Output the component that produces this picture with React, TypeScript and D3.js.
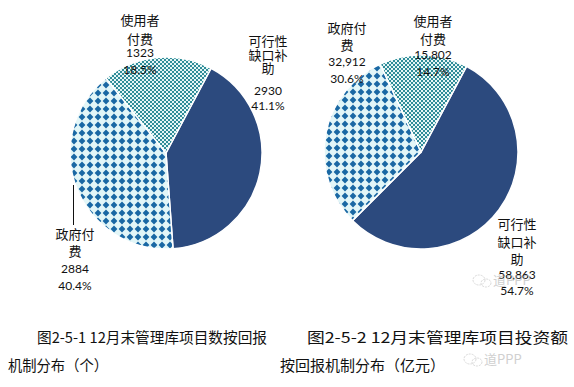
import React from 'react'
import * as d3 from 'd3'

// slices, clockwise from the first one
const sliceKeys = ['gap', 'gov', 'user']
const nameLines = [['可行性', '缺口补', '助'], ['政府付', '费'], ['使用者', '付费']]
const countValues = [2930, 2884, 1323]
const countPercents = ['41.1%', '40.4%', '18.5%']
const investValues = [58863, 32912, 15802]
const investPercents = ['54.7%', '30.6%', '14.7%']
const captionLeft = ['图2-5-1 12月末管理库项目数按回报', '机制分布（个）']
const captionRight = ['图2-5-2 12月末管理库项目投资额', '按回报机制分布（亿元）']

const W = 574
const H = 387
const cnFont = '"Noto Sans CJK SC", "Noto Sans", sans-serif'
const numFont = 'Lato, "Open Sans", sans-serif'
const fills: Record<string, string> = { gap: '#2C4A7E', gov: 'url(#diamonds)', user: 'url(#checker)' }
const startDeg = 28

// label layout: centre x, baselines of name lines, value line, percent line
const leftLabels = [
  { x: 268, ys: [46, 59.5, 73], vy: 95, py: 110 },
  { x: 75, ys: [239, 256], vy: 273, py: 290 },
  { x: 140, ys: [25, 44], vy: 57, py: 74 },
]
const rightLabels = [
  { x: 517, ys: [229, 247, 264], vy: 279, py: 295 },
  { x: 347, ys: [33, 50], vy: 66, py: 83 },
  { x: 433, ys: [26, 44], vy: 59, py: 76 },
]

const Pie = ({ cx, cy, r, values, percents, labels, fmt }: any) => {
  const pie = d3.pie<number>().sort(null)
    .startAngle(startDeg * Math.PI / 180)
    .endAngle(startDeg * Math.PI / 180 + 2 * Math.PI)
  const arc = d3.arc<d3.PieArcDatum<number>>().innerRadius(0).outerRadius(r)
  const arcs = pie(values)
  return (
    <g>
      <g transform={`translate(${cx},${cy})`}>
        {arcs.map((a, i) => (
          <path key={i} d={arc(a) || ''} fill={fills[sliceKeys[i]]} stroke="#fff" strokeWidth={1.5} />
        ))}
      </g>
      {labels.map((l: any, i: number) => (
        <g key={i} textAnchor="middle" fill="#111">
          {nameLines[i].map((t, j) => (
            <text key={j} x={l.x} y={l.ys[j]} fontFamily={cnFont} fontSize={13}>{t}</text>
          ))}
          <text x={l.x} y={l.vy} fontFamily={numFont} fontSize={12}>{fmt(values[i])}</text>
          <text x={l.x} y={l.py} fontFamily={numFont} fontSize={12}>{percents[i]}</text>
        </g>
      ))}
    </g>
  )
}

const Watermark = ({ x, y }: { x: number, y: number }) => (
  <g opacity={0.55}>
    <ellipse cx={x - 14} cy={y - 5} rx={6} ry={5} fill="none" stroke="#bbb" strokeWidth={1} strokeDasharray="2 1" />
    <ellipse cx={x - 7} cy={y - 2} rx={5} ry={4} fill="none" stroke="#bbb" strokeWidth={1} strokeDasharray="2 1" />
    <text x={x} y={y} fontFamily={cnFont} fontSize={13} fill="#aaa">道PPP</text>
  </g>
)

export default function App() {
  return (
    <svg width={W} height={H} style={{ position: 'absolute', left: 0, top: 0, background: '#fff' }}>
      <defs>
        <pattern id="diamonds" width={8} height={8} patternUnits="userSpaceOnUse">
          <rect width={8} height={8} fill="#E2F6F8" />
          <polygon points="4,0.6 7.4,4 4,7.4 0.6,4" fill="#1A68A4" />
        </pattern>
        <pattern id="checker" width={4} height={4} patternUnits="userSpaceOnUse">
          <rect width={4} height={4} fill="#E6F6F6" />
          <rect width={2} height={2} fill="#2F8C98" />
          <rect x={2} y={2} width={2} height={2} fill="#2F8C98" />
        </pattern>
      </defs>
      <rect width={W} height={H} fill="#fff" />

      <Pie cx={166} cy={153} r={96} values={countValues} percents={countPercents}
        labels={leftLabels} fmt={d3.format('d')} />
      <line x1={73.5} y1={185} x2={73.5} y2={225} stroke="#111" strokeWidth={1} />

      <Pie cx={421} cy={152} r={97} values={investValues} percents={investPercents}
        labels={rightLabels} fmt={d3.format(',')} />
      <Watermark x={493} y={285} />

      <g fontFamily={cnFont} fontSize={15} fill="#111">
        <text x={37} y={343} textLength={230} lengthAdjust="spacingAndGlyphs">{captionLeft[0]}</text>
        <text x={8} y={371} textLength={100} lengthAdjust="spacingAndGlyphs">{captionLeft[1]}</text>
        <text x={307} y={343} textLength={261} lengthAdjust="spacingAndGlyphs">{captionRight[0]}</text>
        <text x={280} y={371} textLength={165} lengthAdjust="spacingAndGlyphs">{captionRight[1]}</text>
      </g>
      <Watermark x={484} y={364} />
    </svg>
  )
}
